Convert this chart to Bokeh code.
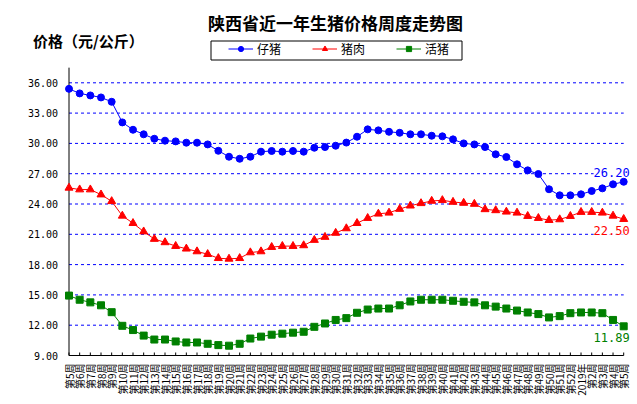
import math
from bokeh.plotting import figure
from bokeh.models import (Range1d, Label, LabelSet, ColumnDataSource, Legend,
                          LegendItem, BoxAnnotation)
from bokeh.embed import file_html
from bokeh.resources import INLINE
from bokeh.core.properties import value

weeks = ["第5周", "第6周", "第7周", "第8周", "第9周", "第10周", "第11周", "第12周",
         "第13周", "第14周", "第15周", "第16周", "第17周", "第18周", "第19周", "第20周",
         "第21周", "第22周", "第23周", "第24周", "第25周", "第26周", "第27周", "第28周",
         "第29周", "第30周", "第31周", "第32周", "第33周", "第34周", "第35周", "第36周",
         "第37周", "第38周", "第39周", "第40周", "第41周", "第42周", "第43周", "第44周",
         "第45周", "第46周", "第47周", "第48周", "第49周", "第50周", "第51周", "第52周",
         "2019年", "第2周", "第3周", "第4周", "第5周"]

piglet = [35.40, 34.95, 34.75, 34.55, 34.12, 32.08, 31.35, 30.90, 30.46, 30.27,
          30.20, 30.07, 30.07, 29.90, 29.27, 28.68, 28.48, 28.68, 29.18, 29.25,
          29.18, 29.25, 29.18, 29.57, 29.64, 29.77, 30.08, 30.66, 31.39, 31.29,
          31.15, 31.05, 30.90, 30.90, 30.76, 30.70, 30.40, 30.00, 29.90, 29.64,
          28.92, 28.65, 27.93, 27.33, 26.97, 25.46, 24.86, 24.86, 24.96, 25.29,
          25.55, 25.95, 26.20]

pork = [25.60, 25.43, 25.43, 24.93, 24.27, 22.83, 22.10, 21.27, 20.53, 20.20,
        19.83, 19.57, 19.30, 19.03, 18.63, 18.57, 18.63, 19.20, 19.30, 19.73,
        19.83, 19.83, 19.90, 20.43, 20.73, 21.13, 21.58, 22.10, 22.60, 23.03,
        23.13, 23.50, 23.83, 24.07, 24.30, 24.37, 24.20, 24.10, 24.00, 23.47,
        23.37, 23.23, 23.13, 22.80, 22.60, 22.40, 22.47, 22.80, 23.20, 23.20,
        23.13, 22.83, 22.50]

hog = [14.93, 14.52, 14.26, 13.97, 13.29, 11.94, 11.52, 10.97, 10.58, 10.58,
       10.39, 10.29, 10.29, 10.16, 10.03, 9.97, 10.16, 10.68, 10.87, 11.06,
       11.16, 11.26, 11.35, 11.84, 12.17, 12.52, 12.70, 13.23, 13.55, 13.65,
       13.65, 13.97, 14.35, 14.52, 14.52, 14.52, 14.42, 14.32, 14.26, 13.97,
       13.84, 13.65, 13.45, 13.26, 13.10, 12.77, 12.90, 13.19, 13.26, 13.26,
       13.19, 12.52, 11.89]

series_names = ["仔猪", "猪肉", "活猪"]
yticks = [9, 12, 15, 18, 21, 24, 27, 30, 33, 36]
y_axis_top = 37.5
title_text = "陕西省近一年生猪价格周度走势图"
ytitle_text = "价格（元/公斤）"

BLUE = "#0000FF"
RED = "#FF0000"
GREEN = "#008000"
CJK = "Noto Sans CJK SC"
NUM = "DejaVu Sans Mono"

W, H = 637, 404
x = list(range(len(weeks)))

# pixel geometry of the plotting area (whole canvas is the frame)
px_x0, px_per_x = 68.5, 10.6673       # canvas x of first category, px per category
px_y36, px_per_y = 82.3, 10.1         # canvas y (from top) of value 36, px per unit
x_start = -px_x0 / px_per_x
x_end = (W - px_x0) / px_per_x
y_end = 36 + px_y36 / px_per_y
y_start = 36 - (H - px_y36) / px_per_y

p = figure(width=W, height=H, output_backend="svg", toolbar_location=None,
           x_range=Range1d(x_start, x_end), y_range=Range1d(y_start, y_end),
           min_border=0, x_axis_location=None, y_axis_location=None)
p.outline_line_color = None
p.xgrid.visible = False
p.ygrid.visible = False
p.background_fill_color = "white"
p.border_fill_color = "white"

# gridlines (dotted blue)
g = yticks[1:]
p.segment(x0=[x[0]] * len(g), y0=g, x1=[x[-1]] * len(g), y1=g,
          line_color=BLUE, line_width=1, line_dash="3 3")
# axis lines
p.segment(x0=[x[0]], y0=[yticks[0]], x1=[x[-1]], y1=[yticks[0]],
          line_color="black", line_width=1)
p.segment(x0=[x[0]], y0=[yticks[0]], x1=[x[0]], y1=[y_axis_top],
          line_color="black", line_width=1)
# x tick marks (3 px, inward)
tick_len = 3 / px_per_y
p.segment(x0=x, y0=[yticks[0]] * len(x), x1=x, y1=[yticks[0] + tick_len] * len(x),
          line_color="black", line_width=1)

# y tick labels
p.text(x=[x[0]] * len(yticks), y=yticks, text=[f"{t:.2f}" for t in yticks],
       x_offset=-11, text_align="right", text_baseline="middle",
       text_font=value(NUM), text_font_size="10px", text_color="black")

# x tick labels (rotated, reading bottom to top)
p.text(x=x, y=[yticks[0]] * len(x), text=weeks, angle=math.pi / 2,
       y_offset=8, text_align="right", text_baseline="middle",
       text_font=value(CJK), text_font_size="10px", text_color="black")

src = ColumnDataSource(dict(x=x, piglet=piglet, pork=pork, hog=hog))
l1 = p.line("x", "piglet", source=src, line_color=BLUE, line_width=1)
s1 = p.scatter("x", "piglet", source=src, marker="circle", size=7,
               fill_color=BLUE, line_color=BLUE)
l2 = p.line("x", "pork", source=src, line_color=RED, line_width=1)
s2 = p.scatter("x", "pork", source=src, marker="triangle", size=8,
               fill_color=RED, line_color=RED)
l3 = p.line("x", "hog", source=src, line_color=GREEN, line_width=1)
s3 = p.scatter("x", "hog", source=src, marker="square", size=7,
               fill_color=GREEN, line_color=GREEN)

# end-of-series value labels (opaque background hides gridlines behind)
lab = ColumnDataSource(dict(
    x=[x[-1]] * 3,
    y=[piglet[-1], pork[-1], hog[-1]],
    text=[f"{piglet[-1]:.2f}", f"{pork[-1]:.2f}", f"{hog[-1]:.2f}"],
    color=[BLUE, RED, GREEN],
    yoff=[9, -11, -11]))
p.add_layout(LabelSet(x="x", y="y", text="text", source=lab, x_offset=6,
                      y_offset="yoff", text_align="right", text_baseline="middle",
                      text_color="color", text_font=value(NUM),
                      text_font_size="12px", background_fill_color="white",
                      background_fill_alpha=1.0))

# legend
legend = Legend(items=[LegendItem(label=series_names[0], renderers=[l1, s1]),
                       LegendItem(label=series_names[1], renderers=[l2, s2]),
                       LegendItem(label=series_names[2], renderers=[l3, s3])],
                orientation="horizontal", location=(228, H - 57),
                glyph_width=25, glyph_height=13, label_height=13,
                label_standoff=4, spacing=31, padding=0, margin=0,
                label_text_font=CJK, label_text_font_size="12px",
                label_text_color="black", border_line_color=None,
                background_fill_alpha=0)
p.add_layout(legend)
p.add_layout(BoxAnnotation(left=210.5, right=461.5, top=H - 40.5, bottom=H - 59.5,
                           left_units="screen", right_units="screen",
                           top_units="screen", bottom_units="screen",
                           fill_alpha=0, line_color="black", line_width=1,
                           line_alpha=1))

# titles
p.add_layout(Label(x=335, y=H - 21.5, x_units="screen", y_units="screen",
                   text=title_text, text_align="center", text_baseline="middle",
                   text_font=CJK, text_font_size="17px", text_font_style="bold",
                   text_color="black"))
p.add_layout(Label(x=32.5, y=H - 40, x_units="screen", y_units="screen",
                   text=ytitle_text, text_align="left", text_baseline="middle",
                   text_font=CJK, text_font_size="15px", text_font_style="bold",
                   text_color="black"))

open("out.html", "w").write(file_html(p, INLINE))
